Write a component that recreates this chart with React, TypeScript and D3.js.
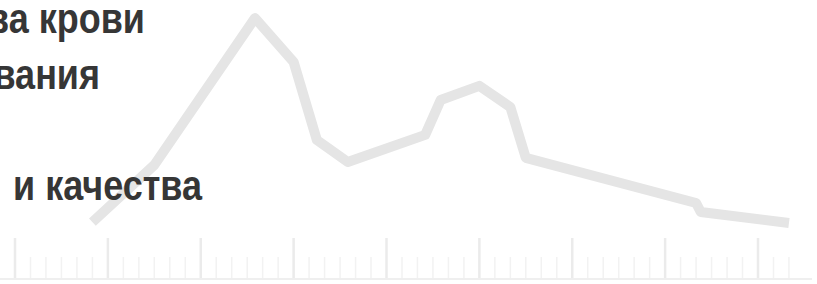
import * as d3 from 'd3';
import React, { useEffect } from 'react';

// x in minor-tick units, y in relative units
const xValues = [5, 9, 15.5, 18, 19.5, 21.5, 26.5, 27.5, 30, 32, 33, 44, 44.3, 50];
const yValues = [7.8, 32.6, 96.5, 77.4, 43.5, 33.9, 45.7, 60.9, 67, 57.8, 35.7, 16.1, 12.2, 7.4];
const labels = ['ва крови', 'вания', 'и качества'];

export default function App() {
  const ref = React.useRef<SVGSVGElement>(null);

  useEffect(() => {
    if (!ref.current) return;
    const svg = d3.select(ref.current);
    svg.selectAll('*').remove();

    const width = 817;
    const height = 284;

    const x = d3.scaleLinear().domain([0, 48]).range([15, 758]);
    const y = d3.scaleLinear().domain([0, 100]).range([240, 10]);

    svg.append('rect').attr('width', width).attr('height', height).attr('fill', '#fff');

    const defs = svg.append('defs');
    defs
      .append('filter')
      .attr('id', 'soft')
      .append('feGaussianBlur')
      .attr('stdDeviation', 0.7);

    // axis baseline and ticks
    const g = svg.append('g').attr('filter', 'url(#soft)');
    g.append('line')
      .attr('x1', 0)
      .attr('x2', 812)
      .attr('y1', 279)
      .attr('y2', 279)
      .attr('stroke', '#efefef')
      .attr('stroke-width', 2);
    const ticks = d3.range(0, 51);
    g.selectAll('.tick')
      .data(ticks)
      .enter()
      .append('line')
      .attr('x1', d => x(d))
      .attr('x2', d => x(d))
      .attr('y1', d => (d % 6 === 0 ? 238 : 257))
      .attr('y2', 278)
      .attr('stroke', d => (d % 6 === 0 ? '#ebebeb' : '#f2f2f2'))
      .attr('stroke-width', d => (d % 6 === 0 ? 2.5 : 1.5));

    // line
    const pts = xValues.map((v, i) => [v, yValues[i]] as [number, number]);
    svg
      .append('path')
      .datum(pts)
      .attr('fill', 'none')
      .attr('stroke', '#e5e5e5')
      .attr('stroke-width', 10)
      .attr('stroke-linejoin', 'round')
      .attr('filter', 'url(#soft)')
      .attr('d', d3.line<[number, number]>().x(d => x(d[0])).y(d => y(d[1])));

    // labels (cut off at the left edge, as in the source)
    const ends = [145, 100, 202];
    const baselines = [33, 89, 200];
    svg
      .selectAll('.label')
      .data(labels)
      .enter()
      .append('text')
      .attr('transform', (d, i) => `translate(${ends[i]},${baselines[i]}) scale(1,1.18)`)
      .attr('text-anchor', 'end')
      .attr('font-family', '"Liberation Sans", Arial, sans-serif')
      .attr('font-weight', 'bold')
      .attr('font-size', 36)
      .attr('fill', '#363636')
      .text(d => d);
  }, []);

  return (
    <svg
      ref={ref}
      width={817}
      height={284}
      style={{ position: 'absolute', left: 0, top: 0, display: 'block' }}
    />
  );
}
